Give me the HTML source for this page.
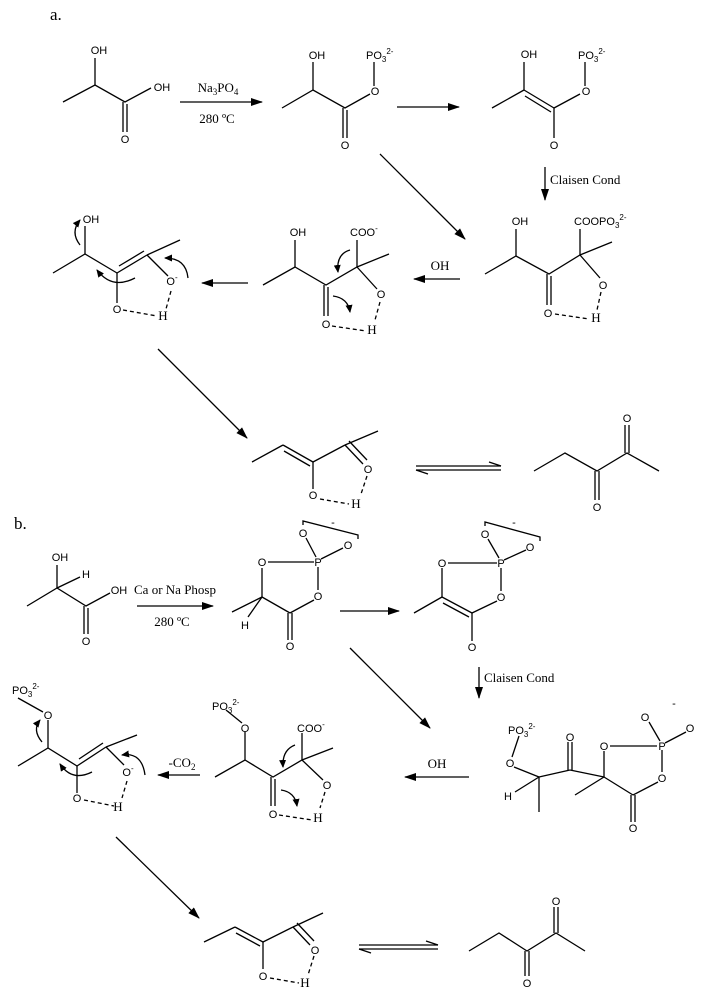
<!DOCTYPE html>
<html><head><meta charset="utf-8"><style>
html,body{margin:0;padding:0;background:#fff;}
svg{display:block;}
.s{font-family:"Liberation Sans",sans-serif;font-size:11px;text-anchor:middle;fill:#000;}
.sl{font-family:"Liberation Sans",sans-serif;font-size:11px;fill:#000;}
.r{font-family:"Liberation Serif",serif;font-size:13px;fill:#000;}
.rm{font-family:"Liberation Serif",serif;font-size:13px;text-anchor:middle;fill:#000;}
line,path,polyline{stroke:#000;stroke-width:1.3;fill:none;}
.d{stroke-dasharray:4,3;}
</style></head><body>
<svg width="704" height="1000" viewBox="0 0 704 1000" xmlns="http://www.w3.org/2000/svg">
<defs>
<marker id="ah" markerWidth="12" markerHeight="8" refX="11" refY="4" orient="auto" markerUnits="userSpaceOnUse">
<path d="M0,0 L12,4 L0,8 Z" style="fill:#000;stroke:none"/></marker>
<marker id="ch" markerWidth="8" markerHeight="7" refX="7" refY="3.5" orient="auto" markerUnits="userSpaceOnUse">
<path d="M0,0 L8,3.5 L0,7 Z" style="fill:#000;stroke:none"/></marker>
</defs>

<!-- ============ PART A ============ -->
<text x="50" y="20" style="font-family:'Liberation Serif',serif;font-size:17px">a.</text>

<!-- lactic acid -->
<polyline points="63,102 95,85 125,102 151,88"/>
<line x1="95" y1="85" x2="95" y2="58"/>
<line x1="123" y1="102" x2="123" y2="132"/><line x1="127" y1="104" x2="127" y2="132"/>
<text class="s" x="99" y="54">OH</text>
<text class="s" x="162" y="91">OH</text>
<text class="s" x="125" y="143">O</text>
<line x1="180" y1="102" x2="262" y2="102" marker-end="url(#ah)"/>
<text class="rm" x="218" y="92">Na<tspan font-size="9" dy="3">3</tspan><tspan dy="-3">PO</tspan><tspan font-size="9" dy="3">4</tspan></text>
<text class="rm" x="217" y="123">280 ºC</text>

<!-- mol 2 -->
<polyline points="282,108 313,90 345,108 370,94"/>
<line x1="313" y1="90" x2="313" y2="62"/>
<line x1="343" y1="108" x2="343" y2="138"/><line x1="347" y1="110" x2="347" y2="138"/>
<line x1="374" y1="86" x2="374" y2="62"/>
<text class="s" x="317" y="59">OH</text>
<text class="s" x="375" y="95">O</text>
<text class="sl" x="366" y="59">PO<tspan font-size="8" dy="3">3</tspan><tspan font-size="8" dy="-8">2-</tspan></text>
<text class="s" x="345" y="149">O</text>
<line x1="397" y1="107" x2="459" y2="107" marker-end="url(#ah)"/>

<!-- mol 3 -->
<line x1="492" y1="108" x2="524" y2="90"/>
<line x1="524" y1="90" x2="554" y2="108"/><line x1="525" y1="96" x2="551" y2="112"/>
<line x1="554" y1="108" x2="580" y2="94"/>
<line x1="524" y1="90" x2="524" y2="62"/>
<line x1="585" y1="86" x2="585" y2="62"/>
<line x1="554" y1="108" x2="554" y2="138"/>
<text class="s" x="529" y="58">OH</text>
<text class="s" x="586" y="95">O</text>
<text class="sl" x="578" y="59">PO<tspan font-size="8" dy="3">3</tspan><tspan font-size="8" dy="-8">2-</tspan></text>
<text class="s" x="554" y="149">O</text>

<line x1="545" y1="167" x2="545" y2="200" marker-end="url(#ah)"/>
<text class="r" x="550" y="184">Claisen Cond</text>
<line x1="380" y1="154" x2="465" y2="239" marker-end="url(#ah)"/>

<!-- row2 right a -->
<polyline points="485,274 516,256 549,274 580,255 612,242"/>
<line x1="516" y1="256" x2="516" y2="229"/>
<line x1="580" y1="255" x2="580" y2="229"/>
<line x1="547" y1="274" x2="547" y2="305"/><line x1="551" y1="276" x2="551" y2="305"/>
<line x1="580" y1="255" x2="600" y2="278"/>
<line class="d" x1="601" y1="292" x2="597" y2="310"/>
<line class="d" x1="555" y1="314" x2="589" y2="319"/>
<text class="s" x="520" y="225">OH</text>
<text class="sl" x="574" y="225">COOPO<tspan font-size="8" dy="3">3</tspan><tspan font-size="8" dy="-8">2-</tspan></text>
<text class="s" x="603" y="289">O</text>
<text class="s" x="548" y="317">O</text>
<text class="rm" x="596" y="322">H</text>
<line x1="460" y1="279" x2="414" y2="279" marker-end="url(#ah)"/>
<text class="rm" x="440" y="270">OH</text>

<!-- mid a -->
<polyline points="263,285 295,267 326,285 357,267 389,254"/>
<line x1="295" y1="267" x2="295" y2="240"/>
<line x1="357" y1="267" x2="357" y2="240"/>
<line x1="324" y1="285" x2="324" y2="316"/><line x1="328" y1="287" x2="328" y2="316"/>
<line x1="357" y1="267" x2="377" y2="289"/>
<line class="d" x1="380" y1="302" x2="375" y2="320"/>
<line class="d" x1="332" y1="326" x2="366" y2="331"/>
<text class="s" x="298" y="236">OH</text>
<text class="sl" x="350" y="236">COO<tspan font-size="8" dy="-5">-</tspan></text>
<text class="s" x="381" y="298">O</text>
<text class="s" x="326" y="328">O</text>
<text class="rm" x="372" y="334">H</text>
<path d="M350,250 Q336,254 338,272" marker-end="url(#ch)"/>
<path d="M333,296 Q348,298 350,312" marker-end="url(#ch)"/>
<line x1="248" y1="283" x2="202" y2="283" marker-end="url(#ah)"/>

<!-- left a -->
<polyline points="53,273 85,254 117,273"/>
<line x1="117" y1="273" x2="147" y2="255"/><line x1="119" y1="266" x2="144" y2="251"/>
<line x1="147" y1="255" x2="180" y2="240"/>
<line x1="147" y1="255" x2="168" y2="276"/>
<line x1="117" y1="273" x2="117" y2="303"/>
<line x1="85" y1="254" x2="85" y2="226"/>
<line class="d" x1="123" y1="310" x2="157" y2="316"/>
<line class="d" x1="171" y1="291" x2="166" y2="309"/>
<text class="s" x="91" y="223">OH</text>
<text class="s" x="172" y="285">O<tspan font-size="8" dy="-5">-</tspan></text>
<text class="s" x="117" y="313">O</text>
<text class="rm" x="163" y="320">H</text>
<path d="M80,245 Q70,232 80,220" marker-end="url(#ch)"/>
<path d="M135,278 Q112,290 97,270" marker-end="url(#ch)"/>
<path d="M188,278 Q186,258 165,258" marker-end="url(#ch)"/>

<line x1="158" y1="349" x2="247" y2="438" marker-end="url(#ah)"/>

<!-- bottom a -->
<line x1="252" y1="462" x2="283" y2="445"/>
<line x1="283" y1="445" x2="313" y2="462"/><line x1="284" y1="451" x2="310" y2="466"/>
<line x1="313" y1="462" x2="345" y2="445"/><line x1="345" y1="445" x2="378" y2="431"/>
<line x1="345" y1="445" x2="363" y2="464"/><line x1="349" y1="441" x2="367" y2="460"/>
<line x1="313" y1="462" x2="313" y2="489"/>
<line class="d" x1="320" y1="499" x2="349" y2="504"/>
<line class="d" x1="367" y1="476" x2="361" y2="494"/>
<text class="s" x="368" y="473">O</text>
<text class="s" x="313" y="499">O</text>
<text class="rm" x="356" y="508">H</text>
<line x1="416" y1="466" x2="501" y2="466"/><line x1="501" y1="466" x2="489" y2="462"/>
<line x1="416" y1="470" x2="501" y2="470"/><line x1="416" y1="470" x2="428" y2="474"/>
<polyline points="534,471 565,453 597,471 627,453 659,471"/>
<line x1="595" y1="471" x2="595" y2="500"/><line x1="599" y1="471" x2="599" y2="500"/>
<line x1="625" y1="453" x2="625" y2="425"/><line x1="629" y1="453" x2="629" y2="425"/>
<text class="s" x="597" y="511">O</text>
<text class="s" x="627" y="422">O</text>

<!-- ============ PART B ============ -->
<text x="14" y="529" style="font-family:'Liberation Serif',serif;font-size:17px">b.</text>
<polyline points="27,606 57,588 86,606 110,593"/>
<line x1="57" y1="588" x2="57" y2="565"/>
<line x1="57" y1="588" x2="80" y2="577"/>
<line x1="84" y1="606" x2="84" y2="634"/><line x1="88" y1="608" x2="88" y2="634"/>
<text class="s" x="60" y="561">OH</text>
<text class="s" x="86" y="578">H</text>
<text class="s" x="119" y="594">OH</text>
<text class="s" x="86" y="645">O</text>
<line x1="137" y1="606" x2="213" y2="606" marker-end="url(#ah)"/>
<text class="rm" x="175" y="594">Ca or Na Phosp</text>
<text class="rm" x="172" y="626">280 ºC</text>

<!-- ring mol -->
<line x1="262" y1="597" x2="262" y2="568"/>
<line x1="268" y1="562" x2="314" y2="562"/>
<line x1="318" y1="567" x2="318" y2="590"/>
<line x1="314" y1="600" x2="290" y2="613"/>
<line x1="262" y1="597" x2="290" y2="613"/>
<line x1="288" y1="613" x2="288" y2="640"/><line x1="292" y1="613" x2="292" y2="640"/>
<line x1="262" y1="597" x2="232" y2="612"/>
<line x1="262" y1="597" x2="248" y2="617"/>
<line x1="316" y1="557" x2="306" y2="538"/>
<line x1="321" y1="559" x2="343" y2="548"/>
<polyline points="303,525 303,521 358,535 358,539"/>
<text class="s" x="333" y="526">-</text>
<text class="s" x="262" y="566">O</text>
<text class="s" x="318" y="566">P</text>
<text class="s" x="318" y="600">O</text>
<text class="s" x="303" y="537">O</text>
<text class="s" x="348" y="549">O</text>
<text class="s" x="290" y="650">O</text>
<text class="s" x="245" y="629">H</text>
<line x1="340" y1="611" x2="399" y2="611" marker-end="url(#ah)"/>

<!-- enol ring -->
<line x1="414" y1="613" x2="442" y2="597"/>
<line x1="442" y1="597" x2="472" y2="613"/><line x1="443" y1="603" x2="469" y2="617"/>
<line x1="442" y1="597" x2="442" y2="568"/>
<line x1="448" y1="563" x2="497" y2="563"/>
<line x1="501" y1="568" x2="501" y2="591"/>
<line x1="497" y1="601" x2="472" y2="613"/>
<line x1="472" y1="613" x2="472" y2="641"/>
<line x1="499" y1="558" x2="488" y2="539"/>
<line x1="504" y1="560" x2="526" y2="550"/>
<polyline points="485,526 485,522 540,537 540,541"/>
<text class="s" x="514" y="526">-</text>
<text class="s" x="442" y="567">O</text>
<text class="s" x="501" y="567">P</text>
<text class="s" x="501" y="601">O</text>
<text class="s" x="485" y="538">O</text>
<text class="s" x="530" y="551">O</text>
<text class="s" x="472" y="651">O</text>
<line x1="479" y1="667" x2="479" y2="698" marker-end="url(#ah)"/>
<text class="r" x="484" y="682">Claisen Cond</text>
<line x1="350" y1="648" x2="430" y2="728" marker-end="url(#ah)"/>

<!-- right b -->
<line x1="519" y1="736" x2="512" y2="757"/>
<line x1="514" y1="767" x2="539" y2="777"/>
<line x1="539" y1="777" x2="539" y2="812"/>
<line x1="539" y1="777" x2="515" y2="792"/>
<line x1="539" y1="777" x2="570" y2="770"/>
<line x1="568" y1="770" x2="568" y2="742"/><line x1="572" y1="770" x2="572" y2="742"/>
<line x1="570" y1="770" x2="604" y2="777"/>
<line x1="604" y1="777" x2="575" y2="795"/>
<line x1="604" y1="777" x2="604" y2="751"/>
<line x1="610" y1="746" x2="657" y2="746"/>
<line x1="662" y1="750" x2="662" y2="772"/>
<line x1="658" y1="782" x2="633" y2="795"/>
<line x1="604" y1="777" x2="633" y2="795"/>
<line x1="631" y1="795" x2="631" y2="822"/><line x1="635" y1="795" x2="635" y2="822"/>
<line x1="660" y1="741" x2="649" y2="722"/>
<line x1="665" y1="743" x2="686" y2="732"/>
<text class="sl" x="508" y="734">PO<tspan font-size="8" dy="3">3</tspan><tspan font-size="8" dy="-8">2-</tspan></text>
<text class="s" x="510" y="767">O</text>
<text class="s" x="508" y="800">H</text>
<text class="s" x="570" y="741">O</text>
<text class="s" x="604" y="750">O</text>
<text class="s" x="662" y="750">P</text>
<text class="s" x="662" y="782">O</text>
<text class="s" x="645" y="721">O</text>
<text class="s" x="690" y="732">O</text>
<text class="s" x="674" y="707">-</text>
<text class="s" x="633" y="832">O</text>
<line x1="469" y1="777" x2="405" y2="777" marker-end="url(#ah)"/>
<text class="rm" x="437" y="768">OH</text>

<!-- mid b -->
<line x1="226" y1="710" x2="242" y2="723"/>
<line x1="245" y1="732" x2="245" y2="760"/>
<polyline points="215,777 245,760 273,777 302,760 333,748"/>
<line x1="302" y1="760" x2="302" y2="733"/>
<line x1="271" y1="777" x2="271" y2="806"/><line x1="275" y1="779" x2="275" y2="806"/>
<line x1="302" y1="760" x2="323" y2="780"/>
<line class="d" x1="325" y1="792" x2="320" y2="808"/>
<line class="d" x1="279" y1="815" x2="312" y2="820"/>
<text class="sl" x="212" y="710">PO<tspan font-size="8" dy="3">3</tspan><tspan font-size="8" dy="-8">2-</tspan></text>
<text class="s" x="245" y="732">O</text>
<text class="sl" x="297" y="732">COO<tspan font-size="8" dy="-5">-</tspan></text>
<text class="s" x="327" y="789">O</text>
<text class="s" x="273" y="818">O</text>
<text class="rm" x="318" y="822">H</text>
<path d="M295,745 Q282,750 283,767" marker-end="url(#ch)"/>
<path d="M281,790 Q295,792 297,806" marker-end="url(#ch)"/>
<line x1="200" y1="775" x2="158" y2="775" marker-end="url(#ah)"/>
<text class="rm" x="182" y="767">-CO<tspan font-size="9" dy="3">2</tspan></text>

<!-- left b -->
<line x1="18" y1="698" x2="43" y2="712"/>
<line x1="48" y1="720" x2="48" y2="748"/>
<polyline points="18,766 48,748 77,766"/>
<line x1="77" y1="766" x2="106" y2="747"/><line x1="79" y1="759" x2="103" y2="743"/>
<line x1="106" y1="747" x2="137" y2="735"/>
<line x1="106" y1="747" x2="124" y2="765"/>
<line x1="77" y1="766" x2="77" y2="793"/>
<line class="d" x1="84" y1="800" x2="114" y2="806"/>
<line class="d" x1="127" y1="781" x2="122" y2="798"/>
<text class="sl" x="12" y="694">PO<tspan font-size="8" dy="3">3</tspan><tspan font-size="8" dy="-8">2-</tspan></text>
<text class="s" x="48" y="719">O</text>
<text class="s" x="128" y="776">O<tspan font-size="8" dy="-5">-</tspan></text>
<text class="s" x="77" y="802">O</text>
<text class="rm" x="118" y="811">H</text>
<path d="M42,742 Q32,730 40,720" marker-end="url(#ch)"/>
<path d="M92,772 Q72,782 60,764" marker-end="url(#ch)"/>
<path d="M145,775 Q142,752 122,755" marker-end="url(#ch)"/>

<line x1="116" y1="837" x2="199" y2="918" marker-end="url(#ah)"/>

<!-- bottom b -->
<line x1="204" y1="942" x2="235" y2="927"/>
<line x1="235" y1="927" x2="263" y2="942"/><line x1="236" y1="933" x2="260" y2="946"/>
<line x1="263" y1="942" x2="293" y2="927"/><line x1="293" y1="927" x2="323" y2="913"/>
<line x1="293" y1="927" x2="310" y2="945"/><line x1="297" y1="923" x2="314" y2="941"/>
<line x1="263" y1="942" x2="263" y2="969"/>
<line class="d" x1="270" y1="978" x2="299" y2="983"/>
<line class="d" x1="314" y1="956" x2="308" y2="975"/>
<text class="s" x="315" y="954">O</text>
<text class="s" x="263" y="980">O</text>
<text class="rm" x="305" y="987">H</text>
<line x1="359" y1="945" x2="438" y2="945"/><line x1="438" y1="945" x2="426" y2="941"/>
<line x1="359" y1="949" x2="438" y2="949"/><line x1="359" y1="949" x2="371" y2="953"/>
<polyline points="469,951 499,933 527,951 556,933 585,951"/>
<line x1="525" y1="951" x2="525" y2="976"/><line x1="529" y1="951" x2="529" y2="976"/>
<line x1="554" y1="933" x2="554" y2="907"/><line x1="558" y1="933" x2="558" y2="907"/>
<text class="s" x="527" y="987">O</text>
<text class="s" x="556" y="905">O</text>
</svg>
</body></html>
